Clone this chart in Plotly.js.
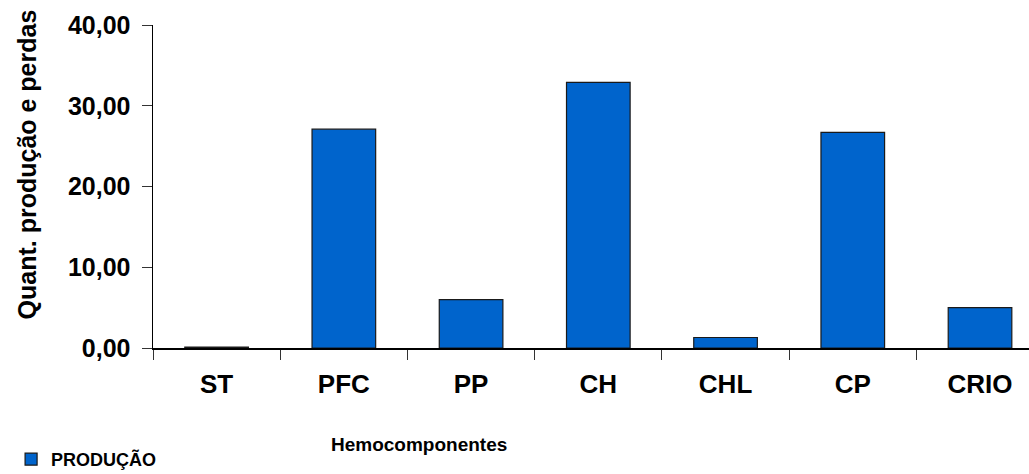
<!DOCTYPE html>
<html>
<head>
<meta charset="utf-8">
<script src="https://cdn.plot.ly/plotly-3.0.1.min.js"></script>
<style>
  html, body { margin: 0; padding: 0; background: #ffffff; }
  #chart { width: 1029px; height: 474px; }
</style>
</head>
<body>
<div id="chart"></div>
<script>
// Hemocomponent production quantities
const categories = ["ST", "PFC", "PP", "CH", "CHL", "CP", "CRIO"];
const producao = [0.12, 27.1, 6.0, 32.9, 1.3, 26.7, 5.0];
const seriesName = "PRODUÇÃO";
const yTicks = [0, 10, 20, 30, 40];

const FONT = "Liberation Sans, Arial, Helvetica, sans-serif";

const trace = {
  type: "bar",
  name: seriesName,
  x: categories,
  y: producao,
  width: 0.5,
  marker: {
    color: "#0064cc",
    line: { color: "#1a1a1a", width: 1.2 }
  },
  showlegend: true,
  hoverinfo: "x+y"
};

const layout = {
  width: 1029,
  height: 474,
  margin: { l: 152.5, r: 0, t: 25, b: 125.7, pad: 0, autoexpand: false },
  paper_bgcolor: "#ffffff",
  plot_bgcolor: "#ffffff",
  separators: ",.",
  font: { family: FONT, color: "#000000" },
  showlegend: true,
  legend: {
    x: -0.162, xanchor: "left",
    y: -0.345, yanchor: "middle",
    itemwidth: 30,
    font: { family: FONT, size: 18, weight: "bold", color: "#000000" },
    bgcolor: "rgba(0,0,0,0)",
    borderwidth: 0
  },
  xaxis: {
    type: "category",
    range: [-0.5, 6.385],
    showline: true,
    linecolor: "#000000",
    linewidth: 1.5,
    ticks: "outside",
    tickson: "boundaries",
    ticklen: 10,
    tickcolor: "#333333",
    tickwidth: 1,
    ticklabelstandoff: 12,
    tickfont: { family: FONT, size: 26, weight: "bold", color: "#000000" },
    showgrid: false,
    zeroline: false,
    fixedrange: true
  },
  yaxis: {
    range: [0, 40],
    tickvals: yTicks,
    tickformat: ".2f",
    showline: true,
    linecolor: "#000000",
    linewidth: 1.5,
    ticks: "outside",
    ticklen: 10,
    tickcolor: "#333333",
    tickwidth: 1,
    ticklabelstandoff: 6,
    tickfont: { family: FONT, size: 25, weight: "bold", color: "#000000" },
    showgrid: false,
    zeroline: false,
    fixedrange: true
  },
  annotations: [
    {
      text: "Hemocomponentes",
      xref: "paper", yref: "paper",
      x: (419 - 152.5) / 876.5, y: (348.3 - 445) / 323.3,
      xanchor: "center", yanchor: "middle",
      showarrow: false,
      font: { family: FONT, size: 19, weight: "bold", color: "#000000" }
    },
    {
      text: "Quant. produção e perdas",
      xref: "paper", yref: "paper",
      x: (26 - 152.5) / 876.5, y: (348.3 - 165) / 323.3,
      xanchor: "center", yanchor: "middle",
      textangle: -90,
      showarrow: false,
      font: { family: FONT, size: 25, weight: "bold", color: "#000000" }
    }
  ]
};

Plotly.newPlot("chart", [trace], layout, { displayModeBar: false, staticPlot: true });
</script>
</body>
</html>
